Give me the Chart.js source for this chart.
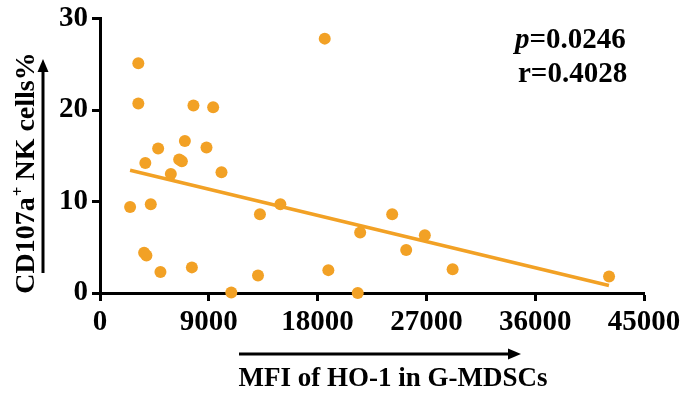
<!DOCTYPE html>
<html>
<head>
<meta charset="utf-8">
<script src="https://cdn.jsdelivr.net/npm/chart.js@4"></script>
<style>
  body { margin: 0; background: #fff; }
  #wrap { width: 685px; height: 393px; }
</style>
</head>
<body>
<div id="wrap"><canvas id="scatterChart" width="685" height="393"></canvas></div>
<script>
// values
const hoMfi = [3170, 3170, 7730, 9360, 7020, 4810, 8810, 3750, 6550, 6770,
               5860, 10050, 2490, 4200, 3650, 3840, 5000, 7600, 10860, 18590,
               13230, 14920, 13070, 18890, 21520, 21320, 24170, 25330, 26870, 29170, 42110];
const nkPercent = [25.1, 20.7, 20.5, 20.3, 16.6, 15.8, 15.9, 14.2, 14.6, 14.4,
                   13.0, 13.2, 9.4, 9.7, 4.4, 4.1, 2.3, 2.8, 0.05, 27.8,
                   8.6, 9.7, 1.9, 2.5, 6.6, 0.0, 8.6, 4.7, 6.3, 2.6, 1.8];
// regression line end points
const fitX = [2490, 42100];
const fitY = [13.42, 0.82];

const xTicks = [0, 9000, 18000, 27000, 36000, 45000];
const yTicks = [0, 10, 20, 30];

const orange = "#F2A125";
const serif = "'Liberation Serif', 'Times New Roman', serif";

// Draw axis titles, arrows and the stats text
const extras = {
    id: "extras",
    afterDraw(chart) {
        const c = chart.ctx;
        c.save();
        c.fillStyle = "#000";
        c.strokeStyle = "#000";

        // y title, rotated
        const big = "bold 28px " + serif;
        const sup = "bold 17px " + serif;
        c.font = big;
        const w1 = c.measureText("CD107a").width;
        const w3 = c.measureText(" NK cells%").width;
        c.font = sup;
        const w2 = c.measureText("+").width;
        const total = w1 + w2 + w3;
        c.save();
        c.translate(34, 173 + total / 2);
        c.rotate(-Math.PI / 2);
        c.textBaseline = "alphabetic";
        c.textAlign = "left";
        c.font = big;
        c.fillText("CD107a", 0, 0);
        c.font = sup;
        c.fillText("+", w1 + 1, -11);
        c.font = big;
        c.fillText(" NK cells%", w1 + w2, 0);
        c.restore();

        // y arrow
        c.lineWidth = 3;
        c.beginPath();
        c.moveTo(43, 273);
        c.lineTo(43, 68);
        c.stroke();
        c.beginPath();
        c.moveTo(43, 59);
        c.lineTo(37.5, 72);
        c.lineTo(48.5, 72);
        c.closePath();
        c.fill();

        // x arrow
        c.beginPath();
        c.moveTo(239, 354);
        c.lineTo(512, 354);
        c.stroke();
        c.beginPath();
        c.moveTo(521, 354);
        c.lineTo(508, 348.5);
        c.lineTo(508, 359.5);
        c.closePath();
        c.fill();

        // x title
        c.font = "bold 27px " + serif;
        c.textAlign = "center";
        c.textBaseline = "alphabetic";
        c.fillText("MFI of HO-1 in G-MDSCs", 393, 386);

        // stats
        c.textAlign = "left";
        c.font = "bold italic 29px " + serif;
        c.fillText("p", 515, 48);
        const pw = c.measureText("p").width;
        c.font = "bold 29px " + serif;
        c.fillText("=0.0246", 515 + pw, 48);
        c.fillText("r=0.4028", 518, 82);
        c.restore();
    }
};

const ctx = document.getElementById("scatterChart").getContext("2d");
new Chart(ctx, {
    data: {
        datasets: [
            {
                type: "scatter",
                data: hoMfi.map((x, i) => ({ x: x, y: nkPercent[i] })),
                backgroundColor: orange,
                borderColor: orange,
                pointRadius: 6,
                pointBorderWidth: 0,
                clip: false
            },
            {
                type: "line",
                data: fitX.map((x, i) => ({ x: x, y: fitY[i] })),
                borderColor: orange,
                borderWidth: 3.5,
                pointRadius: 0,
                fill: false
            }
        ]
    },
    options: {
        responsive: false,
        animation: false,
        layout: { padding: { left: 0, right: 41, top: 14, bottom: 0 } },
        plugins: {
            legend: { display: false },
            tooltip: { enabled: false }
        },
        scales: {
            x: {
                type: "linear",
                min: 0,
                max: 45000,
                afterBuildTicks: (s) => { s.ticks = xTicks.map(v => ({ value: v })); },
                afterFit: (s) => { s.height = 100; },
                border: { display: true, color: "#000", width: 3 },
                grid: { drawOnChartArea: false, tickLength: 8, tickWidth: 3, tickColor: "#000" },
                ticks: {
                    color: "#000",
                    padding: 4,
                    maxRotation: 0,
                    font: { family: serif, size: 29, weight: "bold" },
                    callback: (v) => String(v)
                }
            },
            y: {
                type: "linear",
                min: 0,
                max: 30,
                afterBuildTicks: (s) => { s.ticks = yTicks.map(v => ({ value: v })); },
                afterFit: (s) => { s.width = 100; },
                border: { display: true, color: "#000", width: 3 },
                grid: { drawOnChartArea: false, tickLength: 8, tickWidth: 3, tickColor: "#000" },
                ticks: {
                    color: "#000",
                    padding: 4,
                    font: { family: serif, size: 29, weight: "bold", lineHeight: 1 },
                    callback: (v) => String(v)
                }
            }
        }
    },
    plugins: [extras]
});
</script>
</body>
</html>
